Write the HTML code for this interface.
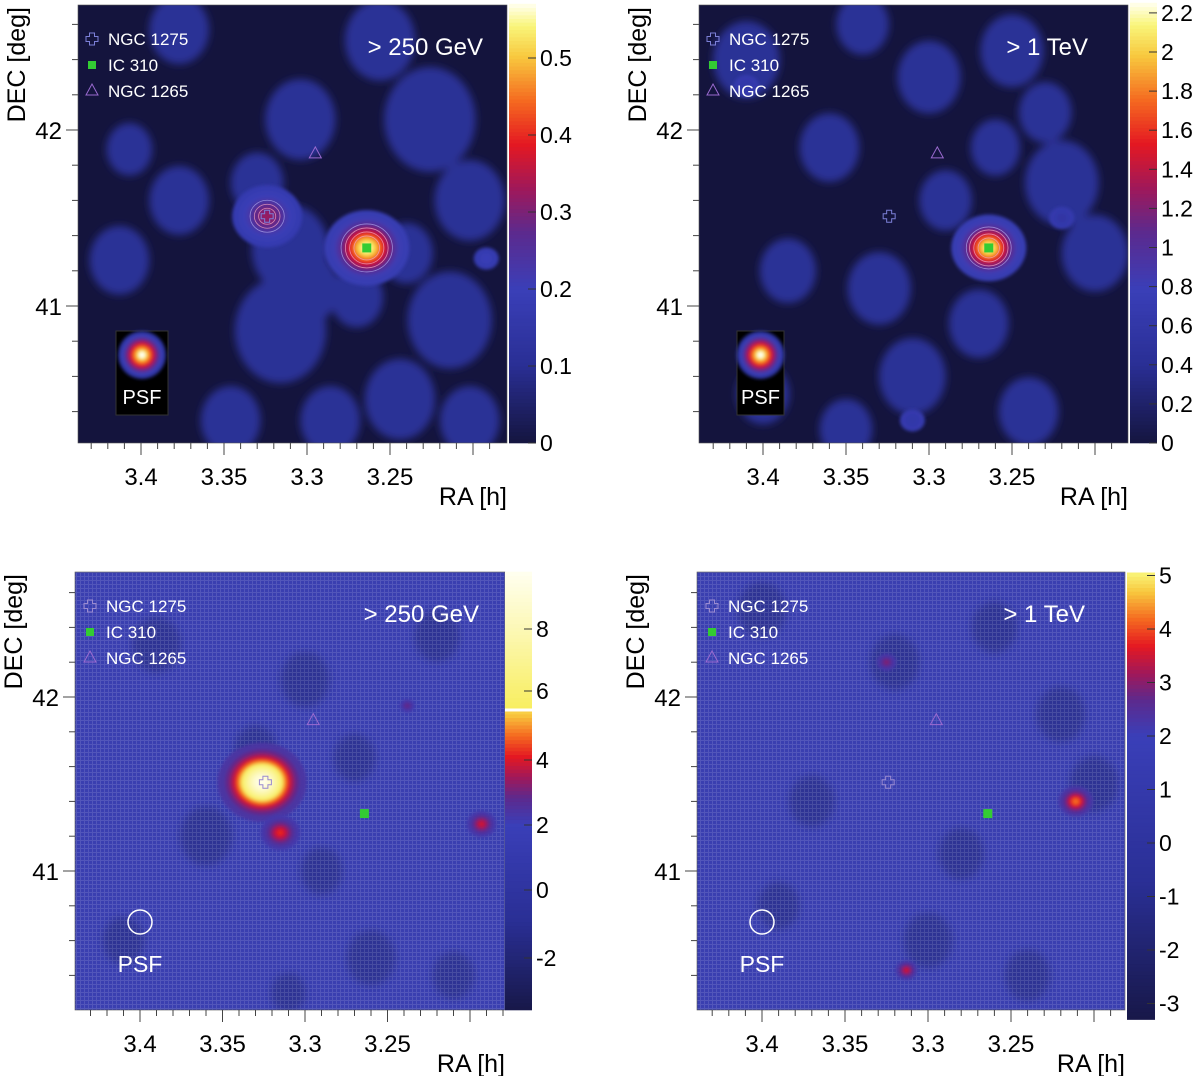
<!DOCTYPE html>
<html><head><meta charset="utf-8"><style>
html,body{margin:0;padding:0;background:#fff;}
svg{display:block;font-family:"Liberation Sans",sans-serif;}
</style></head><body>
<svg id="fig" width="1200" height="1076" viewBox="0 0 1200 1076" xmlns="http://www.w3.org/2000/svg">
<defs>
<filter id="blur6" x="-50%" y="-50%" width="200%" height="200%"><feGaussianBlur stdDeviation="4"/></filter>
<filter id="blur3" x="-50%" y="-50%" width="200%" height="200%"><feGaussianBlur stdDeviation="1.5"/></filter>
<pattern id="grid" width="4" height="4" patternUnits="userSpaceOnUse"><path d="M0 0.5H4M0.5 0V4" stroke="#ffffff" stroke-opacity="0.12" stroke-width="1"/></pattern>
<clipPath id="c0"><rect x="78" y="5" width="429" height="438"/></clipPath>
<clipPath id="c1"><rect x="699" y="5" width="429" height="438"/></clipPath>
<clipPath id="c2"><rect x="75" y="572" width="430" height="438"/></clipPath>
<clipPath id="c3"><rect x="697" y="572" width="428" height="438"/></clipPath>
</defs>
</svg>
<script>
// ---- data ----
const srcNames = ["NGC 1275", "IC 310", "NGC 1265"];
const srcRA = [3.324, 3.264, 3.295];
const srcDEC = [41.51, 41.33, 41.87];
const raTicks = [3.4, 3.35, 3.3, 3.25];
const raTickLabels = ["3.4", "3.35", "3.3", "3.25"];
const decTicks = [41, 42];
const decTickLabels = ["41", "42"];
const energyLabels = ["> 250 GeV", "> 1 TeV", "> 250 GeV", "> 1 TeV"];
const cb1Ticks = [0, 0.1, 0.2, 0.3, 0.4, 0.5];
const cb2Ticks = [0, 0.2, 0.4, 0.6, 0.8, 1, 1.2, 1.4, 1.6, 1.8, 2, 2.2];
const cb3Ticks = [-2, 0, 2, 4, 6, 8];
const cb4Ticks = [-3, -2, -1, 0, 1, 2, 3, 4, 5];
// background structure (RA, DEC, radius deg)
const p1BlobRA = [3.304, 3.316, 3.310, 3.377, 3.407, 3.226, 3.202, 3.214, 3.244, 3.346, 3.377, 3.256, 3.413, 3.202, 3.286, 3.33, 3.27, 3.30, 3.24];
const p1BlobDEC = [42.06, 40.86, 41.32, 41.60, 41.89, 42.06, 41.60, 40.92, 40.47, 40.35, 42.57, 42.51, 41.26, 40.35, 40.35, 41.7, 41.05, 41.1, 41.3];
const p1BlobR = [0.2, 0.26, 0.22, 0.17, 0.13, 0.26, 0.2, 0.24, 0.2, 0.17, 0.17, 0.2, 0.17, 0.17, 0.17, 0.15, 0.15, 0.18, 0.15];
const p2BlobRA = [3.41, 3.36, 3.30, 3.25, 3.22, 3.385, 3.33, 3.27, 3.20, 3.40, 3.31, 3.24, 3.35, 3.23, 3.29, 3.34, 3.26];
const p2BlobDEC = [42.4, 41.9, 42.3, 42.45, 41.7, 41.2, 41.1, 40.9, 41.3, 40.5, 40.6, 40.4, 40.3, 42.1, 41.6, 42.6, 41.9];
const p2BlobR = [0.19, 0.17, 0.18, 0.18, 0.21, 0.16, 0.18, 0.17, 0.19, 0.15, 0.19, 0.17, 0.15, 0.15, 0.15, 0.15, 0.14];
const p3DarkRA = [3.39, 3.30, 3.33, 3.27, 3.22, 3.36, 3.29, 3.41, 3.26, 3.21, 3.31];
const p3DarkDEC = [42.3, 42.1, 41.7, 41.65, 42.35, 41.2, 41.0, 40.6, 40.5, 40.4, 40.3];
const p3DarkR = [0.14, 0.14, 0.12, 0.12, 0.13, 0.15, 0.12, 0.12, 0.14, 0.12, 0.1];
const p4DarkRA = [3.40, 3.32, 3.26, 3.22, 3.37, 3.28, 3.20, 3.39, 3.30, 3.24];
const p4DarkDEC = [42.5, 42.2, 42.4, 41.9, 41.4, 41.1, 41.5, 40.8, 40.6, 40.4];
const p4DarkR = [0.14, 0.14, 0.13, 0.14, 0.13, 0.13, 0.14, 0.12, 0.14, 0.13];
// hotspots (RA, DEC, sigma deg, peak value)
const p1HotRA = [3.324, 3.264, 3.192];
const p1HotDEC = [41.51, 41.33, 41.27];
const p1HotSig = [0.07, 0.085, 0.025];
const p1HotVal = [0.33, 0.57, 0.2];
const p2HotRA = [3.264, 3.31, 3.41, 3.22];
const p2HotDEC = [41.33, 40.35, 42.25, 41.5];
const p2HotSig = [0.075, 0.025, 0.025, 0.025];
const p2HotVal = [2.2, 0.6, 0.6, 0.55];
const p3HotRA = [3.326, 3.315, 3.193, 3.238];
const p3HotDEC = [41.51, 41.22, 41.27, 41.95];
const p3HotSig = [0.09, 0.04, 0.03, 0.015];
const p3HotVal = [9.7, 4.3, 4.0, 3.0];
const p4HotRA = [3.211, 3.313, 3.325];
const p4HotDEC = [41.40, 40.43, 42.2];
const p4HotSig = [0.035, 0.022, 0.02];
const p4HotVal = [4.3, 3.6, 3.0];

const NS = "http://www.w3.org/2000/svg";
const svg = document.getElementById("fig");
function mk(tag, attrs, parent) {
  const e = document.createElementNS(NS, tag);
  for (const k in attrs) e.setAttribute(k, attrs[k]);
  (parent || svg).appendChild(e);
  return e;
}
function lerpHex(a, b, t) {
  const pa = [1,3,5].map(i => parseInt(a.substr(i,2),16)), pb = [1,3,5].map(i => parseInt(b.substr(i,2),16));
  return "rgb(" + pa.map((v,i) => Math.round(v + (pb[i]-v)*t)).join(",") + ")";
}
const stopsHot = [[0,"#15153f"],[0.18,"#2a2f95"],[0.35,"#3a3fb8"],[0.48,"#5c2a8e"],[0.58,"#a0185a"],[0.68,"#e41822"],[0.78,"#f56a20"],[0.88,"#f8c83e"],[0.95,"#f9f57a"],[1,"#fffff0"]];
function cmap(t) {
  t = Math.max(0, Math.min(1, t));
  for (let i = 1; i < stopsHot.length; i++) if (t <= stopsHot[i][0]) {
    const a = stopsHot[i-1], b = stopsHot[i];
    return lerpHex(a[1], b[1], (t - a[0]) / (b[0] - a[0]));
  }
  return stopsHot[stopsHot.length-1][1];
}

const panels = [
  {rect:[78,5,507,443], x0:141, kx:1660, y42:130, ky:176, cb:[509,536], clip:"c0", leg:[92,39], eX:483, eY:55, cbTicks:cb1Ticks, cbY:v=>443-v*770, vmin:0, vmax:0.57, bg:"#14143d", top:true},
  {rect:[699,5,1128,443], x0:763, kx:1660, y42:130, ky:176, cb:[1130,1157], clip:"c1", leg:[713,39], eX:1088, eY:55, cbTicks:cb2Ticks, cbY:v=>443-v*195.5, vmin:0, vmax:2.25, bg:"#14143d", top:true},
  {rect:[75,572,505,1010], x0:140, kx:1650, y42:697, ky:174, cb:[505,532], clip:"c2", leg:[90,606], eX:479, eY:622, cbTicks:cb3Ticks, cbY:null, vmin:-3.6, vmax:9.7, bg:"#3a3fb0", top:false},
  {rect:[697,572,1125,1010], x0:762, kx:1660, y42:697, ky:174, cb:[1127,1155], clip:"c3", leg:[712,606], eX:1085, eY:622, cbTicks:cb4Ticks, cbY:v=>843-v*53.5, vmin:-3.3, vmax:5.05, bg:"#3a3fb0", top:false}
];
const p3Bv = [-3.6,-2,0,2,4,5.5,6,8,9.7], p3By = [1010,958,890,825,760,710,691,629,572];
panels[2].cbY = v => { for (let i=1;i<p3Bv.length;i++) if (v<=p3Bv[i]) return p3By[i-1]+(p3By[i]-p3By[i-1])*(v-p3Bv[i-1])/(p3Bv[i]-p3Bv[i-1]); return 572; };

const blobSets = [
  [p1BlobRA,p1BlobDEC,p1BlobR],[p2BlobRA,p2BlobDEC,p2BlobR],[p3DarkRA,p3DarkDEC,p3DarkR],[p4DarkRA,p4DarkDEC,p4DarkR]];
const hotSets = [
  [p1HotRA,p1HotDEC,p1HotSig,p1HotVal],[p2HotRA,p2HotDEC,p2HotSig,p2HotVal],[p3HotRA,p3HotDEC,p3HotSig,p3HotVal],[p4HotRA,p4HotDEC,p4HotSig,p4HotVal]];
const cbColors = [
  v => cmap(v/0.57),
  v => cmap(v/2.25),
  v => v>5.5 ? lerpHex("#f8ee60","#fffff0",(v-5.5)/4.2) : cmap(v<2 ? 0.02+(v+3.6)/5.6*0.33 : 0.35+(v-2)/3.5*0.55),
  v => cmap(v<2 ? 0.02+(v+3.3)/5.3*0.33 : 0.35+(v-2)/3.05*0.6)
];

panels.forEach((p, pi) => {
  const X = ra => p.x0 + (3.4 - ra) * p.kx;
  const Y = dec => p.y42 + (42 - dec) * p.ky;
  const [L,T,R,B] = p.rect;
  const g = mk("g", {"clip-path":"url(#"+p.clip+")"});
  
  
  mk("rect", {x:L, y:T, width:R-L, height:B-T, fill:p.bg}, g);
  const bs = blobSets[pi];
  const bg = mk("g", {filter:"url(#blur6)"}, g);
  for (let i=0;i<bs[0].length;i++) {
    const c = mk("ellipse", {cx:X(bs[0][i]), cy:Y(bs[1][i]), rx:bs[2][i]*p.ky*1.0, ry:bs[2][i]*p.ky*1.15, fill: p.top ? "#2b3096" : "#2a2e88", "fill-opacity": p.top ? 1 : 0.7}, bg);
    
    
  }
  if (!p.top) mk("rect", {x:L, y:T, width:R-L, height:B-T, fill:"url(#grid)"}, g);
  const hs = hotSets[pi];
  const N = 16;
  for (let i=0;i<hs[0].length;i++) {
    const hg = mk("g", {filter:"url(#blur3)"}, g);
    
    
    const cx = X(hs[0][i]), cy = Y(hs[1][i]), s = hs[2][i]*p.ky;
    const base = p.top ? 0.3*p.vmax : 2.2;
    for (let k=0;k<N;k++) {
      const f = (k+0.5)/N;
      const r = s * Math.sqrt(-2*Math.log(f));
      const v = base + (hs[3][i]-base) * f;
      mk("ellipse", {cx:cx, cy:cy, rx:r*1.08, ry:r*0.96, fill:cbColors[pi](v)}, hg);
    }
  }
  if (p.top) {
    const cr = pi===0 ? [[0,[8,12,16]],[1,[12,16,20,24]]] : [[0,[10,14,18,21]]];
    cr.forEach(([hi, rs]) => rs.forEach((r, k) => {
      const c = mk("ellipse", {cx:X(hs[0][hi]), cy:Y(hs[1][hi]), rx:r*1.07, ry:r, fill:"none", stroke: k===rs.length-1 ? "#a9a0e8" : "#f0a0c0", "stroke-width":0.8, "stroke-opacity":0.8}, g);
      
      
    }));
  }
  if (p.top) {
    const px = L + 38, pw = pi===0 ? 52 : 47;
    const pr = mk("rect", {x:px, y:T+326, width:pw, height:84, fill:"#000", stroke:"#333"});
    
    
    const pg = mk("g", {filter:"url(#blur3)"});
    for (let k=0;k<12;k++) mk("circle", {cx:px+pw/2, cy:T+350, r:24-k*1.9, fill:cmap(0.2 + k/11*0.8)}, pg);
    const pt = mk("text", {x:px+pw/2, y:T+399, fill:"#fff", "font-size":20, "text-anchor":"middle"});
    pt.textContent = "PSF";
    
    
  } else {
    const pc = mk("circle", {cx:L+65, cy:922, r:12, fill:"none", stroke:"#fff", "stroke-width":1.5});
    
    
    const pt = mk("text", {x:L+65, y:972, fill:"#fff", "font-size":23, "text-anchor":"middle"});
    pt.textContent = "PSF";
    
    
  }
  const crossCol = p.top ? "#7c80d8" : "#9a8ad0";
  const cx0 = X(srcRA[0]), cy0 = Y(srcDEC[0]);
  const cross = mk("path", {d:`M${cx0-2.5} ${cy0-6}h5v3.5h3.5v5h-3.5v3.5h-5v-3.5h-3.5v-5h3.5z`, fill:"none", stroke:crossCol, "stroke-width":1});
  
  
  const sq = mk("rect", {x:X(srcRA[1])-4.5, y:Y(srcDEC[1])-4.5, width:9, height:9, fill:"#33cc33"});
  
  
  const tx = X(srcRA[2]), ty = Y(srcDEC[2]);
  const tri = mk("path", {d:`M${tx} ${ty-6}L${tx+6} ${ty+5}L${tx-6} ${ty+5}Z`, fill:"none", stroke:"#9a6ad0", "stroke-width":1});
  
  
  const [lx, ly] = p.leg;
  const lg = mk("g", {});
  
  
  mk("path", {d:`M${lx-2.5} ${ly-6}h5v3.5h3.5v5h-3.5v3.5h-5v-3.5h-3.5v-5h3.5z`, fill:"none", stroke:crossCol, "stroke-width":1}, lg);
  mk("rect", {x:lx-4, y:ly+22, width:8, height:8, fill:"#33cc33"}, lg);
  mk("path", {d:`M${lx} ${ly+45}L${lx+6} ${ly+56}L${lx-6} ${ly+56}Z`, fill:"none", stroke:"#9a6ad0", "stroke-width":1}, lg);
  srcNames.forEach((n, i) => {
    const t = mk("text", {x:lx+16, y:ly+6+i*26, fill:"#fff", "font-size":17}, lg);
    t.textContent = n;
    
    
  });
  const et = mk("text", {x:p.eX, y:p.eY, fill:"#fff", "font-size":24, "text-anchor":"end"});
  et.textContent = energyLabels[pi];
  
  
  mk("rect", {x:L, y:T, width:R-L, height:B-T, fill:"none", stroke:"#555", "stroke-width":0.6});
  for (let ra = 3.44; ra >= 3.17; ra -= 0.01) {
    const x = X(ra); if (x < L+1 || x > R-1) continue;
    const major = Math.abs(Math.round(ra*20) - ra*20) < 0.01;
    mk("line", {x1:x, y1:B, x2:x, y2:B+(major?12:6), stroke:"#444", "stroke-width":1});
  }
  raTicks.forEach((ra, i) => {
    const t = mk("text", {x:X(ra), y:B+42, "font-size":24, fill:"#000", "text-anchor":"middle"});
    t.textContent = raTickLabels[i];
    
    
  });
  for (let d = 40.2; d <= 42.8; d += 0.2) {
    const y = Y(d); if (y < T+1 || y > B-1) continue;
    const major = Math.abs(d - Math.round(d)) < 0.01;
    mk("line", {x1:L-(major?12:6), y1:y, x2:L, y2:y, stroke:"#444", "stroke-width":1});
  }
  decTicks.forEach((d, i) => {
    const t = mk("text", {x:L-16, y:Y(d)+9, "font-size":24, fill:"#000", "text-anchor":"end"});
    t.textContent = decTickLabels[i];
    
    
  });
  const xt = mk("text", {x:R, y:B+62, "font-size":25, fill:"#000", "text-anchor":"end"});
  xt.textContent = "RA [h]";
  
  
  const yt = mk("text", {x:0, y:0, "font-size":25, fill:"#000", "text-anchor":"end", transform:`translate(${L-53},${T+2}) rotate(-90)`});
  yt.textContent = "DEC [deg]";
  
  
  const [c0, c1] = p.cb;
  const cbg = mk("g", {});
  
  
  const n = 120;
  for (let k=0;k<n;k++) {
    const v0 = p.vmin + (p.vmax-p.vmin)*k/n, v1 = p.vmin + (p.vmax-p.vmin)*(k+1)/n;
    const y0 = p.cbY(v0), y1 = p.cbY(v1);
    mk("rect", {x:c0, y:Math.min(y0,y1)-0.3, width:c1-c0, height:Math.abs(y0-y1)+0.6, fill:cbColors[pi]((v0+v1)/2)}, cbg);
  }
  if (pi===2) mk("line", {x1:c0, y1:p.cbY(5.5), x2:c1, y2:p.cbY(5.5), stroke:"#fff", "stroke-width":3}, cbg);
  p.cbTicks.forEach(v => {
    const y = p.cbY(v);
    mk("line", {x1:c1-8, y1:y, x2:c1, y2:y, stroke:"#333", "stroke-width":1}, cbg);
    const t = mk("text", {x:c1+4, y:y+8, "font-size":23, fill:"#000"});
    t.textContent = String(v);
    
    
  });
});
</script>
</body></html>
